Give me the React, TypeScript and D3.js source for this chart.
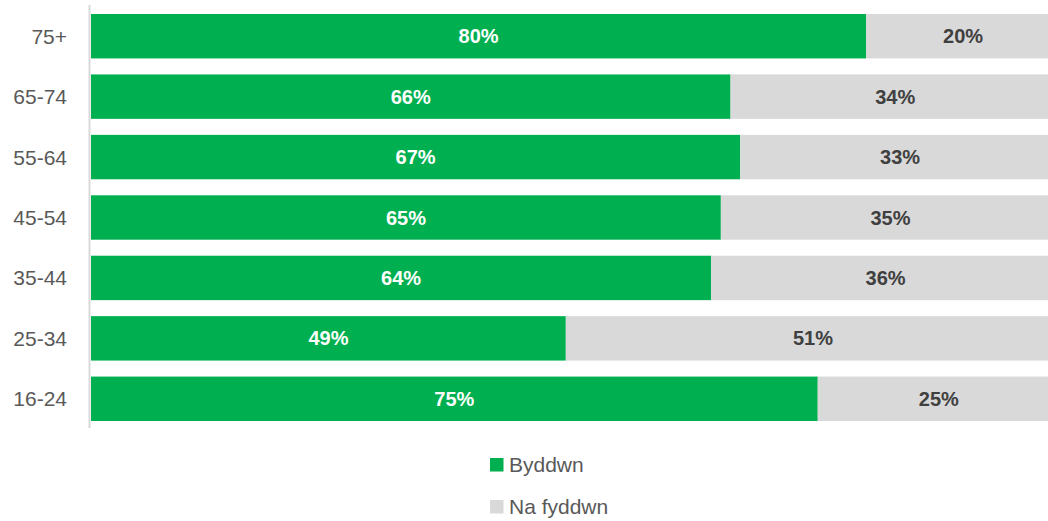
import React from "react";
import * as d3 from "d3";

const categories = ["75+", "65-74", "55-64", "45-54", "35-44", "25-34", "16-24"];
const byddwn = [80, 66, 67, 65, 64, 49, 75];
const naFyddwn = [20, 34, 33, 35, 36, 51, 25];
const seriesNames = ["Byddwn", "Na fyddwn"];
const seriesColors = ["#00B050", "#D9D9D9"];
const labelColors = ["#FFFFFF", "#404040"];

const W = 1048;
const H = 521;
const FONT = "'Liberation Sans', Arial, sans-serif";

export default function App() {
  const x = d3.scaleLinear().domain([0, 100]).range([91, 1060]);
  const y = d3
    .scaleBand<string>()
    .domain(categories)
    .range([6, 429])
    .paddingInner(0.265)
    .paddingOuter(0.1325);

  const rows = categories.map((c, i) => ({ c, vals: [byddwn[i], naFyddwn[i]] }));

  return (
    <svg
      width={W}
      height={H}
      style={{ position: "absolute", left: 0, top: 0, fontFamily: FONT }}
    >
      <rect x={0} y={0} width={W} height={H} fill="#fff" />
      {rows.map((r) => {
        let acc = 0;
        const y0 = y(r.c)!;
        const bh = y.bandwidth();
        return (
          <g key={r.c}>
            {r.vals.map((v, j) => {
              const start = acc;
              acc += v;
              const x0 = x(start);
              const x1 = x(acc);
              return (
                <g key={j}>
                  <rect x={x0} y={y0} width={x1 - x0} height={bh} fill={seriesColors[j]} />
                  <text
                    x={(x0 + x1) / 2}
                    y={y0 + bh / 2}
                    textAnchor="middle"
                    dominantBaseline="central"
                    fontWeight="bold"
                    fontSize={20}
                    fill={labelColors[j]}
                  >
                    {v}%
                  </text>
                </g>
              );
            })}
            <text
              x={67}
              y={y0 + bh / 2}
              textAnchor="end"
              dominantBaseline="central"
              fontSize={21}
              fill="#595959"
            >
              {r.c}
            </text>
          </g>
        );
      })}
      <line x1={89.5} x2={89.5} y1={5} y2={428} stroke="#D9D9D9" strokeWidth={2} />
      {seriesNames.map((s, i) => (
        <g key={s} transform={`translate(490, ${458 + i * 42})`}>
          <rect x={0} y={0} width={13.5} height={13.5} fill={seriesColors[i]} />
          <text
            x={19}
            y={6.5}
            dominantBaseline="central"
            fontSize={21}
            fill="#595959"
          >
            {s}
          </text>
        </g>
      ))}
    </svg>
  );
}
